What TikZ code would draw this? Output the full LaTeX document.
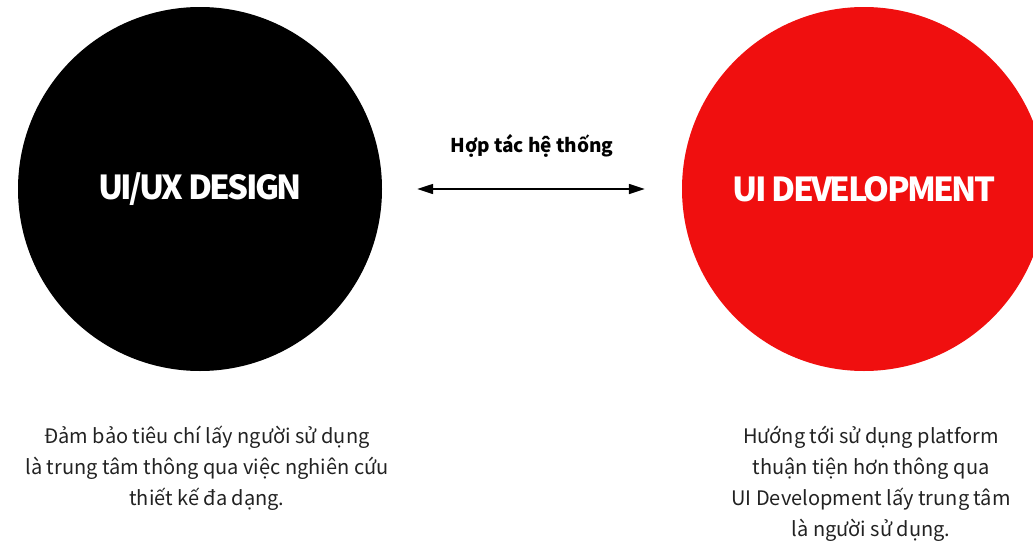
\documentclass[tikz,border=0pt]{standalone}
\usepackage{fontspec}
\setmainfont{Noto Sans CJK KR}
\usetikzlibrary{arrows.meta,positioning}
\definecolor{devred}{RGB}{240,15,15}
\definecolor{bodytext}{RGB}{34,34,34}
\tikzset{
  >={Triangle[length=16pt,width=10pt]},
  bigcircle/.style={circle, minimum size=364pt, inner sep=0pt, text=white,
    font=\fontsize{33}{38}\selectfont\bfseries\addfontfeature{LetterSpace=-8}},
  caption/.style={align=center, inner sep=0pt, text=bodytext,
    font=\fontsize{20}{31}\selectfont},
}

\begin{document}
\begin{tikzpicture}[x=1pt, y=-1pt]
    \useasboundingbox (0,0) rectangle (1033,546);
    \node[bigcircle, fill=black]  (design) at (200,189) {UI/UX DESIGN};
    \node[bigcircle, fill=devred] (dev)    at (864,189) {UI DEVELOPMENT};
    \draw[<->, line width=1.6pt, shorten <=35pt, shorten >=37pt]
      (design.east) -- node[above=27pt, font=\fontsize{19}{22}\selectfont\bfseries] (coop) {Hợp tác hệ thống} (dev.west);
    \node[caption, anchor=north] (designtext) at (207,426)
      {Đảm bảo tiêu chí lấy người sử dụng\\là trung tâm thông qua việc nghiên cứu\\thiết kế đa dạng.};
    \node[caption, anchor=north] (devtext) at (871,426)
      {Hướng tới sử dụng platform\\thuận tiện hơn thông qua\\UI Development lấy trung tâm\\là người sử dụng.};
  \end{tikzpicture}
\end{document}
